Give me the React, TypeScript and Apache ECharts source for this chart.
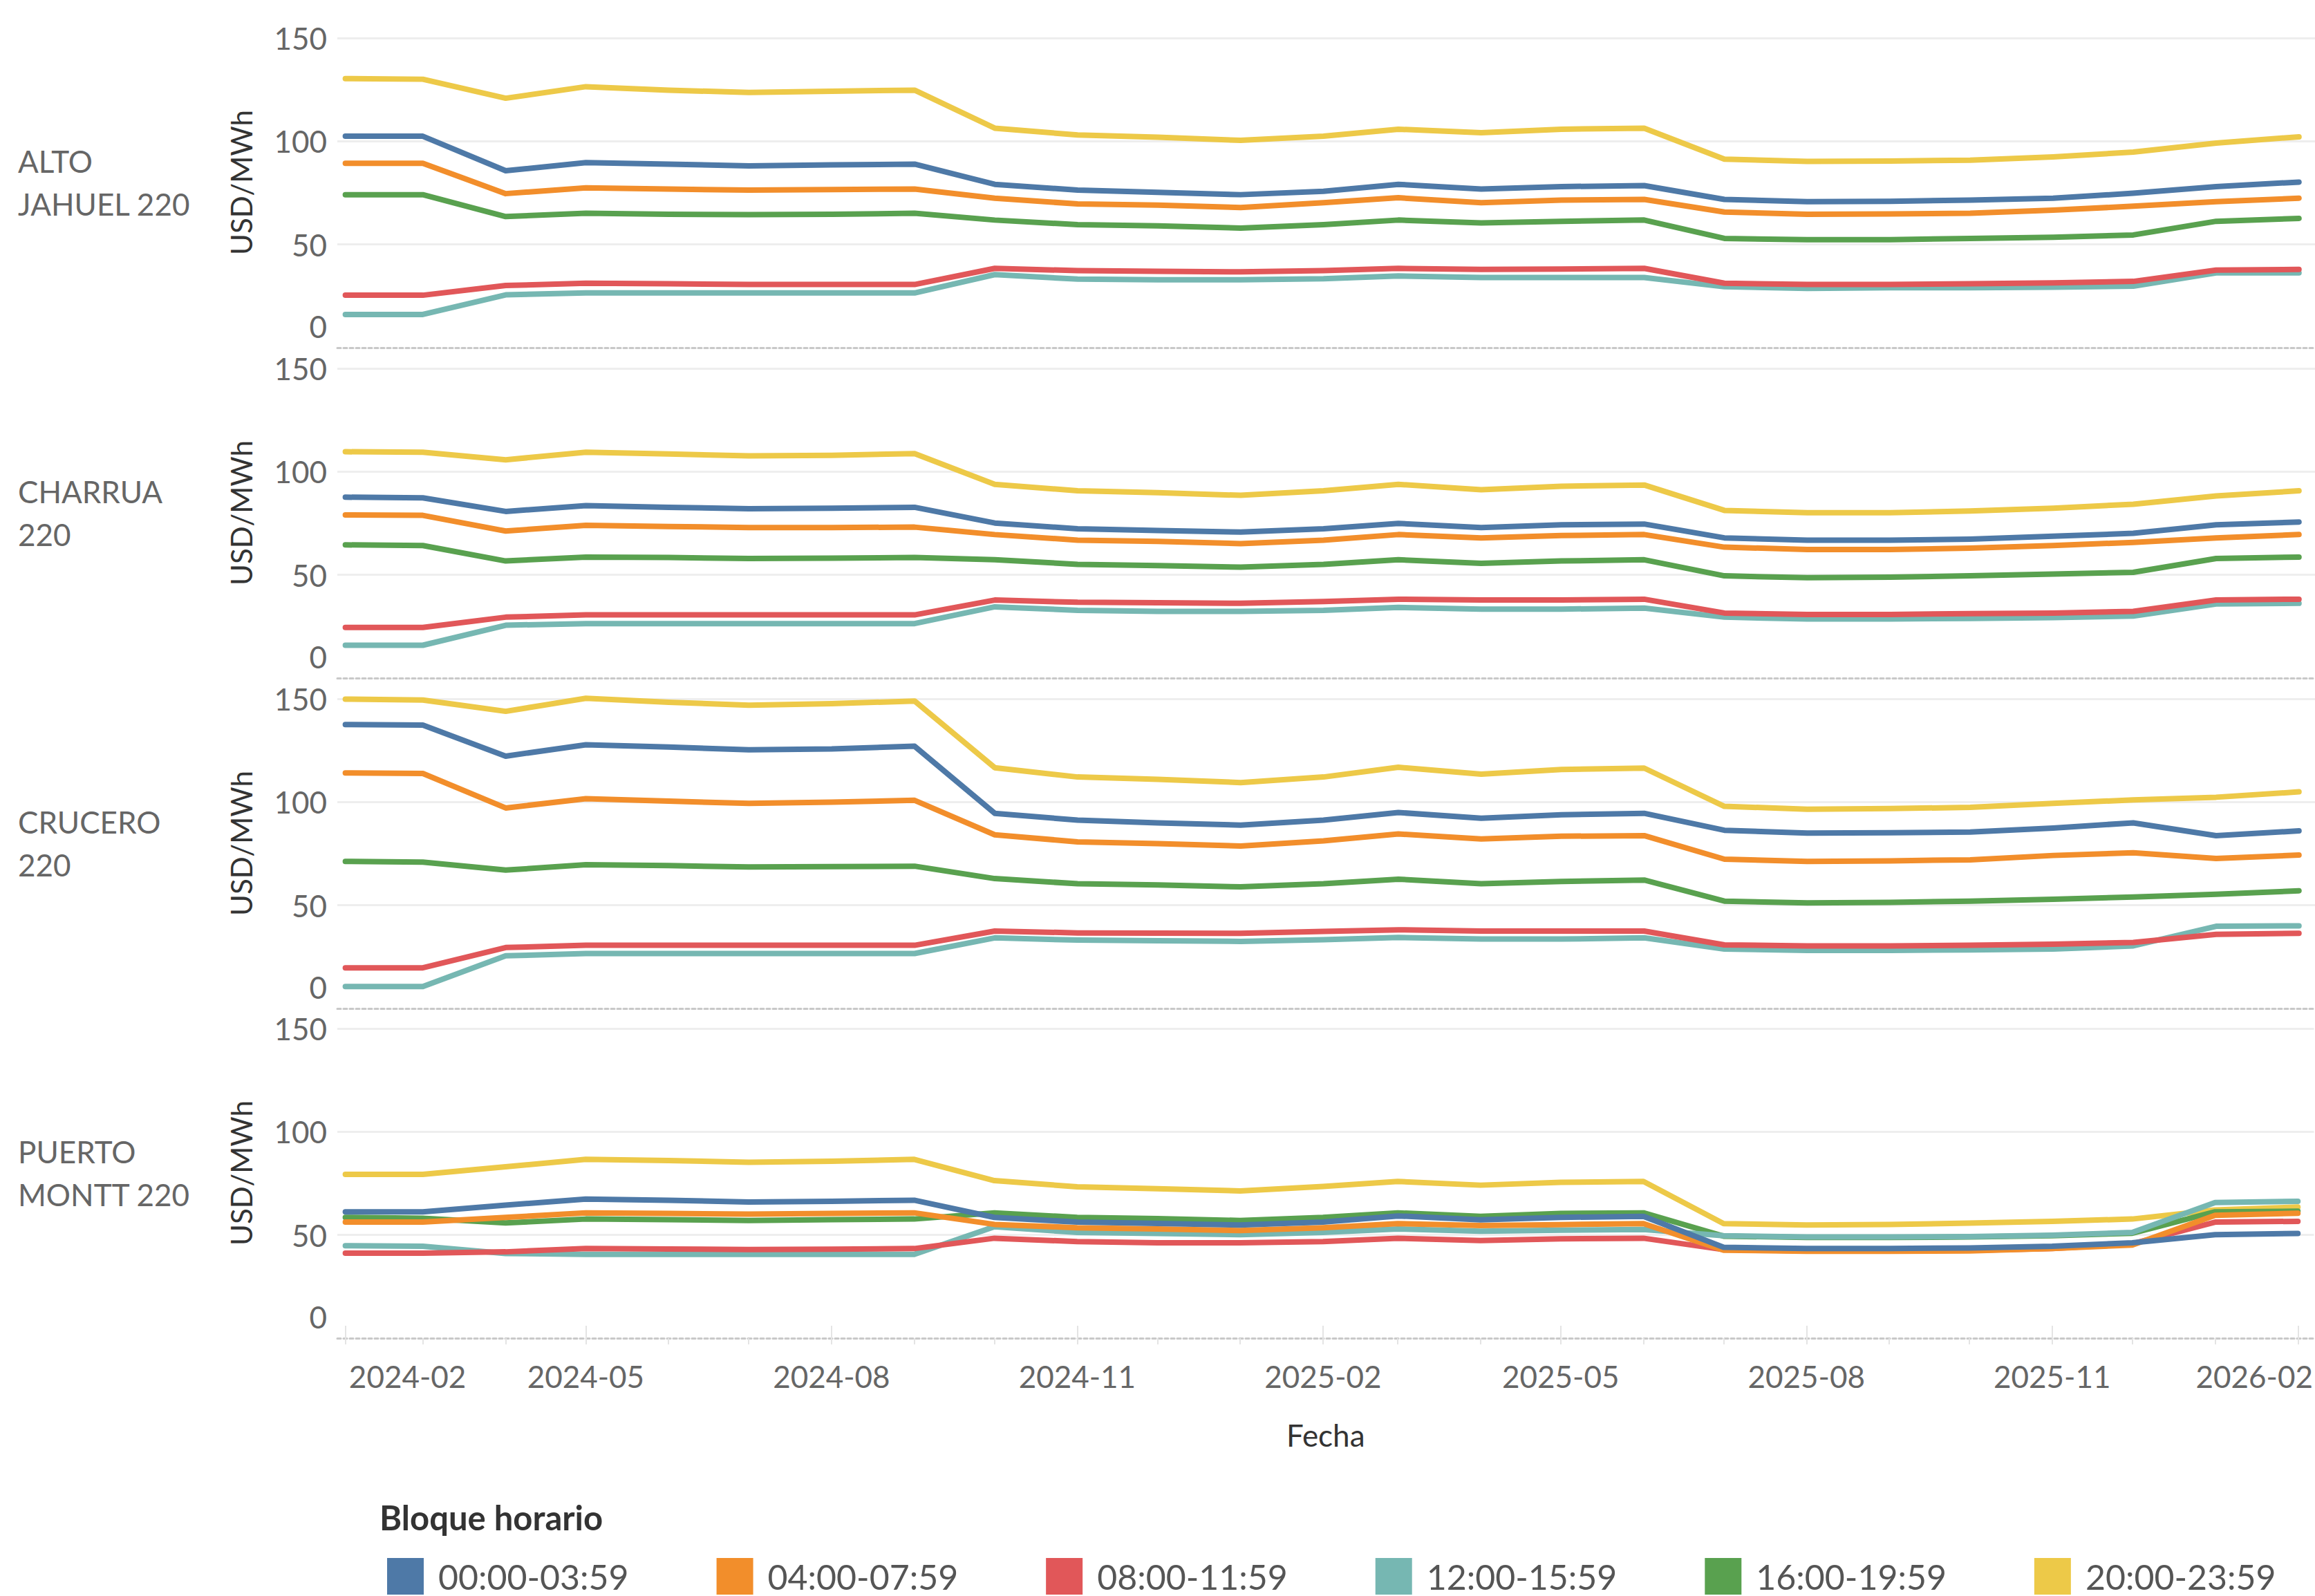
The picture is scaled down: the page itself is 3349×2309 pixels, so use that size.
import React, { useEffect, useRef } from "react";
import * as echarts from "echarts";

const W = 3349;
const H = 2309;

const months = [
  "2024-02", "2024-03", "2024-04", "2024-05", "2024-06", "2024-07", "2024-08", "2024-09",
  "2024-10", "2024-11", "2024-12", "2025-01", "2025-02", "2025-03", "2025-04", "2025-05",
  "2025-06", "2025-07", "2025-08", "2025-09", "2025-10", "2025-11", "2025-12", "2026-01", "2026-02",
];
const xTickLabels = ["2024-02", "2024-05", "2024-08", "2024-11", "2025-02", "2025-05", "2025-08", "2025-11", "2026-02"];
const yTickValues = [0, 50, 100, 150];
const bands = ["00:00-03:59", "04:00-07:59", "08:00-11:59", "12:00-15:59", "16:00-19:59", "20:00-23:59"];
const bandColors = ["#4e79a7", "#f28e2b", "#e15759", "#76b7b2", "#59a14f", "#edc948"];
const stations = ["ALTO\nJAHUEL 220", "CHARRUA\n220", "CRUCERO\n220", "PUERTO\nMONTT 220"];

// values per station, in band order: 00-04, 04-08, 08-12, 12-16, 16-20, 20-24
const altoJahuel220 = [
  [102.4, 102.4, 85.7, 89.6, 88.9, 88.0, 88.5, 88.9, 79.1, 76.3, 75.2, 74.1, 75.7, 79.1, 76.8, 78.0, 78.5, 71.8, 70.7, 70.9, 71.5, 72.4, 74.8, 78.0, 80.2],
  [89.3, 89.3, 74.6, 77.4, 76.8, 76.3, 76.6, 76.8, 72.4, 69.6, 69.0, 67.9, 70.2, 72.6, 70.2, 71.5, 71.8, 65.7, 64.6, 64.8, 65.1, 66.6, 68.5, 70.7, 72.4],
  [25.4, 25.4, 30.1, 31.2, 31.0, 30.6, 30.6, 30.6, 38.4, 37.3, 37.0, 36.7, 37.3, 38.4, 37.9, 38.1, 38.4, 31.2, 30.6, 30.6, 31.0, 31.4, 32.1, 37.6, 37.9],
  [16.1, 16.1, 25.6, 26.5, 26.5, 26.5, 26.5, 26.5, 35.4, 33.2, 32.9, 32.9, 33.4, 34.7, 34.0, 34.0, 34.0, 29.5, 28.7, 29.0, 29.0, 29.3, 29.8, 36.2, 36.2],
  [74.1, 74.1, 63.5, 65.1, 64.6, 64.4, 64.6, 65.1, 61.8, 59.6, 59.0, 57.9, 59.6, 61.8, 60.4, 61.2, 61.8, 52.9, 52.3, 52.3, 52.9, 53.5, 54.6, 61.2, 62.6],
  [130.3, 130.0, 120.8, 126.4, 124.7, 123.6, 124.2, 124.7, 106.3, 103.0, 101.9, 100.4, 102.4, 105.8, 104.1, 105.8, 106.3, 91.3, 90.2, 90.4, 90.8, 92.4, 94.7, 99.1, 102.1],
];
const charrua220 = [
  [87.6, 87.3, 80.7, 83.5, 82.7, 82.0, 82.3, 82.7, 75.1, 72.3, 71.5, 70.7, 72.3, 74.9, 72.9, 74.2, 74.6, 67.9, 66.8, 66.8, 67.3, 68.7, 70.1, 74.2, 75.6],
  [79.0, 78.8, 71.2, 74.0, 73.4, 72.9, 72.9, 73.1, 69.5, 66.8, 66.2, 65.1, 66.8, 69.5, 67.9, 69.0, 69.5, 63.4, 62.3, 62.3, 62.9, 64.2, 65.7, 67.9, 69.5],
  [24.5, 24.5, 29.5, 30.6, 30.6, 30.6, 30.6, 30.6, 37.8, 36.7, 36.5, 36.2, 37.1, 38.2, 37.8, 37.8, 38.2, 31.5, 30.8, 30.8, 31.2, 31.5, 32.3, 37.8, 38.2],
  [15.9, 15.9, 25.6, 26.4, 26.4, 26.4, 26.4, 26.4, 34.5, 32.8, 32.3, 32.3, 32.8, 34.2, 33.4, 33.4, 33.9, 29.5, 28.6, 28.6, 28.9, 29.3, 30.0, 35.9, 36.2],
  [64.5, 64.2, 56.7, 58.6, 58.4, 57.9, 58.1, 58.4, 57.3, 55.1, 54.5, 53.7, 55.1, 57.3, 55.6, 56.7, 57.3, 49.5, 48.6, 48.9, 49.5, 50.4, 51.2, 57.9, 58.6],
  [109.6, 109.4, 105.7, 109.4, 108.5, 107.6, 107.9, 108.7, 93.8, 90.7, 89.8, 88.5, 90.7, 93.8, 91.2, 92.9, 93.5, 81.2, 80.1, 80.1, 80.9, 82.3, 84.2, 88.2, 90.7],
];
const crucero220 = [
  [137.5, 137.2, 122.2, 127.7, 126.6, 125.3, 125.7, 127.0, 94.5, 91.2, 89.9, 88.8, 91.2, 94.9, 92.1, 93.8, 94.5, 86.3, 84.9, 85.1, 85.4, 87.4, 89.9, 83.7, 86.0],
  [114.1, 113.8, 97.1, 101.6, 100.4, 99.3, 99.9, 100.8, 84.1, 80.7, 79.8, 78.7, 81.2, 84.5, 82.1, 83.4, 83.7, 72.3, 71.2, 71.5, 72.0, 74.1, 75.4, 72.6, 74.3],
  [19.7, 19.7, 29.5, 30.6, 30.6, 30.6, 30.6, 30.6, 37.5, 36.6, 36.5, 36.4, 37.3, 38.1, 37.5, 37.5, 37.5, 30.8, 30.3, 30.3, 30.6, 31.1, 32.0, 35.9, 36.4],
  [10.6, 10.6, 25.5, 26.6, 26.6, 26.6, 26.6, 26.6, 34.2, 33.1, 32.8, 32.5, 33.3, 34.4, 33.6, 33.6, 34.2, 28.8, 28.1, 28.1, 28.4, 28.8, 30.3, 39.8, 40.0],
  [71.2, 70.9, 67.0, 69.6, 69.2, 68.5, 68.7, 68.9, 62.9, 60.4, 59.8, 58.9, 60.4, 62.6, 60.4, 61.5, 62.2, 52.0, 51.1, 51.4, 52.0, 52.9, 54.0, 55.3, 57.0],
  [149.8, 149.4, 143.9, 150.2, 148.3, 146.9, 147.6, 148.9, 116.6, 112.1, 111.0, 109.4, 112.1, 116.8, 113.5, 115.7, 116.4, 97.9, 96.5, 96.8, 97.4, 99.3, 101.0, 102.3, 104.9],
];
const puertoMontt220 = [
  [61.2, 61.2, 64.4, 67.4, 66.8, 65.9, 66.3, 66.8, 58.5, 56.2, 55.6, 54.8, 56.2, 59.2, 57.3, 58.5, 59.0, 44.0, 43.4, 43.4, 43.7, 44.5, 46.2, 50.1, 50.7],
  [56.2, 56.2, 58.5, 60.7, 60.4, 60.1, 60.4, 60.7, 55.1, 53.5, 52.9, 52.1, 53.5, 55.5, 54.6, 55.0, 55.5, 42.6, 42.1, 42.1, 42.3, 43.4, 45.1, 59.5, 60.5],
  [41.2, 41.2, 41.8, 43.4, 43.2, 42.9, 43.1, 43.4, 48.4, 46.8, 46.2, 46.2, 46.8, 48.4, 47.3, 48.1, 48.4, 42.9, 42.3, 42.3, 42.5, 43.4, 45.7, 56.2, 56.6],
  [44.8, 44.5, 41.0, 40.6, 40.6, 40.6, 40.6, 40.6, 54.0, 51.2, 50.7, 50.1, 51.2, 52.9, 51.8, 52.3, 52.6, 49.6, 49.0, 49.0, 49.2, 49.9, 51.2, 65.7, 66.3],
  [58.5, 58.1, 55.8, 57.7, 57.4, 57.0, 57.4, 57.7, 60.7, 58.5, 57.9, 57.0, 58.5, 60.7, 59.0, 60.4, 60.7, 49.4, 48.8, 48.8, 49.0, 49.6, 50.8, 61.2, 61.5],
  [79.3, 79.3, 83.0, 86.6, 86.0, 85.2, 85.7, 86.6, 76.3, 73.3, 72.4, 71.3, 73.5, 75.9, 74.1, 75.5, 75.9, 55.5, 54.8, 55.1, 55.7, 56.6, 57.7, 62.1, 63.5],
];
const stationValues = [altoJahuel220, charrua220, crucero220, puertoMontt220];

const ts = (s: string) => Date.UTC(+s.slice(0, 4), +s.slice(5, 7) - 1, 1);
const fmt = (v: number) => {
  const d = new Date(v);
  const m = d.getUTCMonth() + 1;
  return `${d.getUTCFullYear()}-${m < 10 ? "0" + m : m}`;
};

export default function App() {
  const ref = useRef<HTMLDivElement>(null);
  useEffect(() => {
    const chart = echarts.init(ref.current!, null, { renderer: "svg" });
    const FONT = "Lato";
    const GRID_LEFT = 488;
    const PANEL_TOPS = [25, 503, 981, 1458];
    const PANEL_H = 478;
    const X_MIN = Date.UTC(2024, 0, 29);
    const X_MAX = Date.UTC(2026, 1, 7);
    const monthTs = months.map(ts);
    const labelTs = xTickLabels.map(ts);
    const firstLabel = xTickLabels[0];
    const lastLabel = xTickLabels[xTickLabels.length - 1];
    const labelColor = "#666666";

    const grids = PANEL_TOPS.map((t) => ({ left: GRID_LEFT, top: t, width: W - GRID_LEFT, height: PANEL_H }));

    const xAxes: any[] = PANEL_TOPS.map((_, i) => ({
      type: "value",
      gridIndex: i,
      min: X_MIN,
      max: X_MAX,
      axisLine: { show: true, onZero: false, lineStyle: { color: "#c8c8c8", width: 3, type: [5, 4] } },
      axisTick: { show: i === 3, customValues: monthTs, length: 9, lineStyle: { color: "#e4e4e4", width: 2 } },
      axisLabel: {
        show: i === 3,
        customValues: labelTs,
        hideOverlap: false,
        showMinLabel: true,
        showMaxLabel: true,
        margin: 33,
        fontFamily: FONT,
        fontSize: 44,
        color: labelColor,
        formatter: (v: number) => {
          const s = fmt(v);
          if (s === firstLabel) return `{f|${s}}`;
          if (s === lastLabel) return `{l|${s}}`;
          return s;
        },
        rich: {
          f: { padding: [0, 0, 0, 180], fontFamily: FONT, fontSize: 44, color: labelColor },
          l: { padding: [0, 126, 0, 0], fontFamily: FONT, fontSize: 44, color: labelColor },
        },
      },
      splitLine: { show: false },
      name: i === 3 ? "Fecha" : "",
      nameLocation: "middle",
      nameGap: 118,
      nameTextStyle: { fontFamily: FONT, fontSize: 44, color: "#333333" },
    }));
    // longer quarterly ticks on the bottom axis
    xAxes.push({
      type: "value",
      gridIndex: 3,
      min: X_MIN,
      max: X_MAX,
      axisLine: { show: false },
      axisTick: { show: true, customValues: labelTs, length: 18, lineStyle: { color: "#e4e4e4", width: 2 } },
      axisLabel: { show: false },
      splitLine: { show: false },
    });

    const yAxes = PANEL_TOPS.map((_, i) => ({
      type: "value",
      gridIndex: i,
      min: 0,
      max: 160,
      interval: 50,
      axisLine: { show: false },
      axisTick: { show: false },
      axisLabel: {
        margin: 15,
        fontFamily: FONT,
        fontSize: 44,
        color: labelColor,
        formatter: (v: number) => (v === 0 ? "{z|0}" : yTickValues.includes(v) ? String(v) : ""),
        rich: { z: { padding: [0, 0, 62, 0], fontFamily: FONT, fontSize: 44, color: labelColor } },
      },
      splitLine: {
        show: true,
        showMinLine: false,
        lineStyle: { color: ["#eeeeee", "#eeeeee", "#eeeeee", "rgba(0,0,0,0)"], width: 3 },
      },
      name: "USD/MWh",
      nameLocation: "middle",
      nameRotate: 90,
      nameGap: 118,
      nameTextStyle: { fontFamily: FONT, fontSize: 42, color: "#333333" },
    }));

    const series: any[] = [];
    stationValues.forEach((vals, i) => {
      for (let j = bands.length - 1; j >= 0; j--) {
        series.push({
          type: "line",
          name: bands[j],
          xAxisIndex: i,
          yAxisIndex: i,
          data: monthTs.map((t, k) => [t, vals[j][k]]),
          showSymbol: false,
          symbol: "none",
          color: bandColors[j],
          lineStyle: { width: 8, color: bandColors[j], join: "round", cap: "round" },
          emphasis: { disabled: true },
          silent: true,
        });
      }
    });

    const graphic = stations.map((s, i) => ({
      type: "text",
      left: 26,
      top: PANEL_TOPS[i] + PANEL_H / 2 - 62,
      style: { text: s, fontFamily: FONT, fontSize: 44, lineHeight: 62, fill: "#666666" },
    }));

    chart.setOption({
      animation: false,
      backgroundColor: "#ffffff",
      title: {
        text: "Bloque horario",
        left: 549,
        top: 2170,
        padding: 0,
        textStyle: { fontFamily: FONT, fontSize: 49, fontWeight: "bold", color: "#333333" },
      },
      legend: {
        data: bands,
        left: 560,
        top: 2254,
        padding: 0,
        icon: "rect",
        itemWidth: 53,
        itemHeight: 53,
        itemGap: 127,
        selectedMode: false,
        textStyle: { fontFamily: FONT, fontSize: 50, color: "#555555", padding: [0, 0, 0, 16] },
      },
      grid: grids,
      xAxis: xAxes,
      yAxis: yAxes,
      series,
      graphic,
    });
    return () => chart.dispose();
  }, []);
  return (
    <div
      ref={ref}
      style={{ position: "absolute", left: 0, top: 0, width: W, height: H, background: "#fff" }}
    />
  );
}
